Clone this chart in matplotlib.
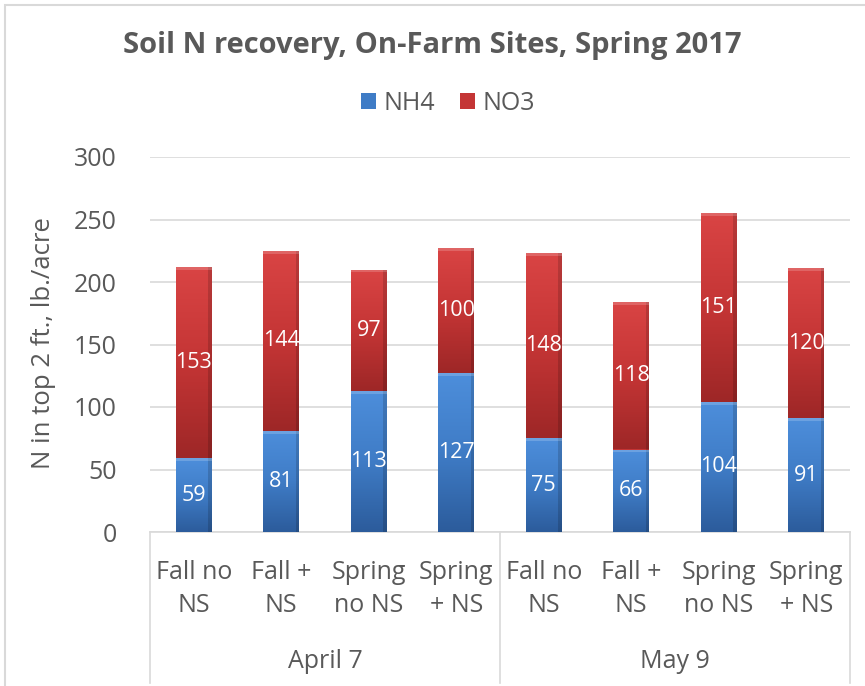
import numpy as np
import matplotlib.pyplot as plt
from matplotlib.colors import LinearSegmentedColormap
from matplotlib.patches import Patch, Rectangle
from matplotlib.lines import Line2D
import matplotlib.transforms as mtransforms

plt.rcParams['font.family'] = ['Open Sans', 'DejaVu Sans']

categories = ['Fall no\nNS', 'Fall +\nNS', 'Spring\nno NS', 'Spring\n+ NS',
              'Fall no\nNS', 'Fall +\nNS', 'Spring\nno NS', 'Spring\n+ NS']
groups = ['April 7', 'May 9']
nh4 = [59, 81, 113, 127, 75, 66, 104, 91]
no3 = [153, 144, 97, 100, 148, 118, 151, 120]

grey = '#595959'
blue_map = LinearSegmentedColormap.from_list('b', ['#2C5C9C', '#3F7CC6', '#4D8EDB'])
red_map = LinearSegmentedColormap.from_list('r', ['#9E2727', '#C43535', '#D94444'])

fig = plt.figure(figsize=(8.65, 6.86), dpi=100)
ax = fig.add_axes([150/865, 154/686, 700/865, 375/686])

x = np.arange(len(categories))
b1 = ax.bar(x, nh4, width=0.41, color='#3F7CC6', zorder=3)
b2 = ax.bar(x, no3, width=0.41, bottom=nh4, color='#C43535', zorder=3)

grad = np.linspace(0, 1, 100).reshape(-1, 1)
for bars, cmap in [(b1, blue_map), (b2, red_map)]:
    for bar in bars:
        x0, y0 = bar.get_x(), bar.get_y()
        w, h = bar.get_width(), bar.get_height()
        im = ax.imshow(grad, cmap=cmap, origin='lower', aspect='auto',
                       extent=[x0, x0 + w, y0, y0 + h], zorder=4)
        im.set_clip_path(bar)
        # darker right edge + light top strip, like the excel bevel
        ax.add_patch(Rectangle((x0 + w * 0.9, y0), w * 0.1, h, color='black',
                               alpha=0.15, lw=0, zorder=5))
        ax.add_patch(Rectangle((x0, y0 + h - 2.2), w, 2.2, color='white',
                               alpha=0.18, lw=0, zorder=5))

for i in range(len(categories)):
    ax.text(x[i], nh4[i] / 2, str(nh4[i]), ha='center', va='center',
            color='white', fontsize=15.5, zorder=6)
    ax.text(x[i], nh4[i] + no3[i] / 2, str(no3[i]), ha='center', va='center',
            color='white', fontsize=15.5, zorder=6)

ax.set_xlim(-0.5, len(categories) - 0.5)
ax.set_ylim(0, 300)
ax.set_yticks(range(0, 301, 50))
ax.yaxis.grid(True, color='#D9D9D9', lw=1.2, zorder=0)
ax.set_axisbelow(True)
ax.tick_params(axis='y', length=0, labelsize=18, colors=grey, pad=24)
ax.set_xticks([])
for s in ['top', 'right', 'left']:
    ax.spines[s].set_visible(False)
ax.spines['bottom'].set_color('#D9D9D9')
ax.spines['bottom'].set_linewidth(1.2)

ax.set_ylabel('N in top 2 ft., lb./acre', fontsize=18.5, color=grey)
ax.yaxis.set_label_coords(-0.134, 0.504)

trans = mtransforms.blended_transform_factory(ax.transData, fig.transFigure)
for i, c in enumerate(categories):
    ax.text(x[i], 1 - 589/686, c, transform=trans, ha='center', va='center',
            fontsize=18, color=grey, linespacing=1.4)
for g, name in enumerate(groups):
    ax.text(g * 4 + 1.5, 1 - 661/686, name, transform=trans, ha='center',
            va='center', fontsize=18, color=grey)
for xv in [-0.5, 3.5, 7.5]:
    ax.add_line(Line2D([xv, xv], [1 - 532/686, 1 - 683/686], transform=trans,
                       color='#D9D9D9', lw=1.2, clip_on=False))

fig.text(0.5, 1 - 45/686, 'Soil N recovery, On-Farm Sites, Spring 2017',
         ha='center', va='center', fontsize=21, fontweight='bold', color=grey)
handles = [Patch(facecolor='#3F7CC6', label='NH4'), Patch(facecolor='#C43535', label='NO3')]
fig.legend(handles=handles, loc='center', bbox_to_anchor=(448/865, 1 - 103/686),
           ncol=2, frameon=False, fontsize=18, labelcolor=grey,
           handlelength=0.6, handleheight=0.6, handletextpad=0.3, columnspacing=1.0)

fig.patches.append(Rectangle((5/865, -0.01), 1.0, 1 - 5/686 + 0.01, transform=fig.transFigure,
                             fill=False, edgecolor='#D9D9D9', lw=1.5))

fig.savefig('out.png', dpi=100)
